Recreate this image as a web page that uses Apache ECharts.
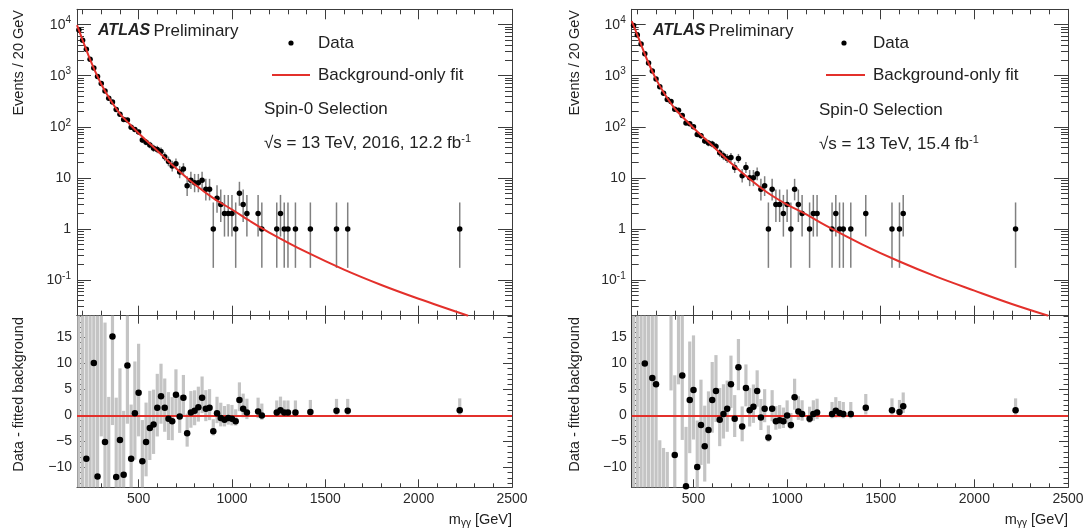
<!DOCTYPE html>
<html><head><meta charset="utf-8">
<script src="https://cdn.jsdelivr.net/npm/echarts@6/dist/echarts.min.js"></script>
<style>html,body{margin:0;padding:0;background:#fff}#c{width:1083px;height:531px}</style>
</head><body><div id="c"></div>
<script>
// ---------------- data ----------------
const xMajorTicks = [500, 1000, 1500, 2000, 2500];
const xMinorTicks = [200,300,400,600,700,800,900,1100,1200,1300,1400,1600,1700,1800,1900,2100,2200,2300,2400];
const residMajorTicks = [-10, -5, 0, 5, 10, 15];
const residMinorTicks = [-13,-12,-11,-9,-8,-7,-6,-4,-3,-2,-1,1,2,3,4,6,7,8,9,11,12,13,14,16,17,18,19];
const logTickLabels = {'-1': '10{sup|-1}', '0': '1', '1': '10', '2': '10{sup|2}', '3': '10{sup|3}', '4': '10{sup|4}'};

// Left: 2016, 12.2 fb-1
const massLeft = [180,200,220,240,260,280,300,320,340,360,380,400,420,440,460,480,500,520,540,560,580,600,620,640,660,680,700,720,740,760,780,800,820,840,860,880,900,920,940,960,980,1000,1020,1040,1060,1080,1140,1160,1240,1260,1280,1300,1340,1420,1560,1620,2220];
const countsLeft = [7855,4978,3319,2104,1425,970,702,505,364,307,217,176,139,136,98,89,79,55,50,44,38,36,33,26,21,17,19,13,15,7,9,8,8,9,6,6,1,4,3,2,2,2,1,5,3,2,2,1,1,2,1,1,1,1,1,1,1];
const residLeft = [25,-22,-8.3,-20,10.1,-11.7,22,-5.1,-16,15.2,-11.8,-4.7,-11.4,9.6,-8.3,0.45,4.4,-8.8,-5.1,-2.4,-1.7,1.5,3.7,1.5,-0.6,-1.1,4.0,-0.2,3.4,-3.4,0.6,0.9,1.6,3.4,1.3,1.5,-3.0,0.45,-0.45,-0.8,-0.45,-0.6,-1.1,3.0,1.3,0.6,0.8,0.0,0.6,1.0,0.6,0.6,0.6,0.7,0.9,0.9,1.0];
const fitMassLeft = [170,200,250,300,350,400,450,500,600,700,800,900,1000,1100,1200,1400,1600,1800,2000,2265];
const fitValueLeft = [9800,5000,1700,680,330,180,115,75,34,15.5,7.5,4.0,2.4,1.4,0.85,0.35,0.16,0.08,0.043,0.02];

// Right: 15.4 fb-1
const massRight = [180,200,220,240,260,280,300,320,340,360,380,400,420,440,460,480,500,520,540,560,580,600,620,640,660,680,700,720,740,760,780,800,820,840,860,880,900,920,940,960,980,1000,1020,1040,1060,1080,1120,1140,1160,1240,1260,1280,1300,1340,1420,1560,1600,1620,2220];
const countsRight = [9600,6275,4200,2691,1768,1245,866,612,452,342,312,220,210,166,119,115,100,71,67,53,48,46,41,31,27,24,25,16,24,11,16,10,10,12,6,7,1,6,3,3,2,3,1,6,3,2,1,2,2,1,2,1,1,1,2,1,1,2,1];
const residRight = [30,-25,22,10,-20,7.2,6.0,-30,-28,-26,22,-7.6,20,7.7,-13.6,3.0,4.9,-9.9,-1.8,-5.9,-2.8,3.0,4.7,-0.8,0.3,1.3,6.0,-0.6,9.3,-2.1,5.3,1.0,1.7,4.7,-0.4,1.3,-4.2,1.3,-1.1,-0.9,-1.1,0.0,-1.8,3.5,0.8,0.3,-0.6,0.3,0.6,0.3,0.9,0.5,0.3,0.3,1.5,1.0,0.7,1.8,1.0];
const fitMassRight = [170,200,250,300,350,400,450,500,600,700,800,900,1000,1100,1200,1400,1600,1800,2000,2200,2395];
const fitValueRight = [11800,6300,2150,860,415,228,145,95,43,19.5,9.5,5.0,3.0,1.95,1.2,0.5,0.23,0.115,0.062,0.034,0.02];

// Garwood 68% Poisson intervals for small counts
const garwood = [[0,1.841],[0.173,3.300],[0.708,4.638],[1.367,5.918],[2.086,7.163],[2.840,8.382],[3.620,9.584],[4.419,10.77],[5.232,11.95],[6.057,13.11],[6.891,14.27]];
function poisson(n){ if (n <= 10) return garwood[n]; const s = Math.sqrt(n + 0.25); return [n + 0.5 - s, n + 0.5 + s]; }

// ---------------- style ----------------
const FONT = 'Liberation Sans';
const AX = '#3c3c3c';
const RED = '#e3302b';
const TXT = '#222';
const XMIN = 170, XMAX = 2500, YLMIN = 0.02, YLMAX = 20000, YRMIN = -13.8, YRMAX = 19.2;

const grids = [
  {left: 77, top: 9.3, width: 435, height: 306.4},
  {left: 77, top: 315.7, width: 435, height: 171.6},
  {left: 631.7, top: 9.3, width: 436.3, height: 306.4},
  {left: 631.7, top: 315.7, width: 436.3, height: 171.6}
].map(g => Object.assign({outerBoundsMode: 'none', containLabel: false}, g));

const tickLabelStyle = {color: '#2a2a2a', fontSize: 14, fontFamily: FONT};

function xAxesFor(g, showLabels, majLen, minLen) {
  const base = {gridIndex: g, type: 'value', min: XMIN, max: XMAX, splitLine: {show: false}};
  const mk = (pos, major) => Object.assign({}, base, {
    position: pos,
    axisLine: {show: major, onZero: false, lineStyle: {color: AX, width: 1}},
    axisTick: {show: true, inside: true, length: major ? majLen : minLen, customValues: major ? xMajorTicks : xMinorTicks, lineStyle: {color: AX, width: 1}},
    axisLabel: Object.assign({show: major && pos === 'bottom' && showLabels, customValues: xMajorTicks, margin: 5,
      formatter: v => String(Math.round(v))}, tickLabelStyle)
  });
  return [mk('bottom', true), mk('bottom', false), mk('top', true), mk('top', false)];
}

function logYAxes(g) {
  const base = {gridIndex: g, type: 'log', logBase: 10, min: YLMIN, max: YLMAX, splitLine: {show: false}, minorSplitLine: {show: false}};
  const mk = (pos) => Object.assign({}, base, {
    position: pos,
    axisLine: {show: true, onZero: false, lineStyle: {color: AX, width: 1}},
    axisTick: {show: true, inside: true, length: 14, lineStyle: {color: AX, width: 1}},
    minorTick: {show: true, splitNumber: 9, length: 7, lineStyle: {color: AX, width: 1}},
    axisLabel: Object.assign({
      show: pos === 'left', margin: 6, showMinLabel: false, showMaxLabel: false,
      formatter: function (v) {
        const l = Math.log10(v); const r = Math.round(l);
        if (Math.abs(l - r) > 1e-6) return '';
        return logTickLabels[String(r)] || '';
      },
      rich: {sup: {fontSize: 10, lineHeight: 10, padding: [0, 0, 8, 0], fontFamily: FONT, color: '#2a2a2a'}}
    }, tickLabelStyle)
  });
  return [mk('left'), mk('right')];
}

function residYAxes(g) {
  const base = {gridIndex: g, type: 'value', min: YRMIN, max: YRMAX, splitLine: {show: false}};
  const mk = (pos, major) => Object.assign({}, base, {
    position: pos,
    axisLine: {show: major, onZero: false, lineStyle: {color: AX, width: 1}},
    axisTick: {show: true, inside: true, length: major ? 9 : 4.5, customValues: major ? residMajorTicks : residMinorTicks, lineStyle: {color: AX, width: 1}},
    axisLabel: Object.assign({
      show: major && pos === 'left', customValues: residMajorTicks, margin: 5,
      formatter: v => (v < 0 ? '\u2212' + Math.abs(v) : String(v))
    }, tickLabelStyle)
  });
  return [mk('left', true), mk('left', false), mk('right', true), mk('right', false)];
}

const xAxes = [].concat(xAxesFor(0, false, 10, 5), xAxesFor(1, true, 8, 4), xAxesFor(2, false, 10, 5), xAxesFor(3, true, 8, 4));
const yAxes = [].concat(logYAxes(0), residYAxes(1), logYAxes(2), residYAxes(3));
// indices: top-left y 0, bottom-left y 2, top-right y 6, bottom-right y 8

function errSeries(xi, yi, data, lo, hi, color, width) {
  return {
    type: 'custom', xAxisIndex: xi, yAxisIndex: yi, data: data, z: 2, silent: true,
    renderItem: function (params, api) {
      const x = api.value(0);
      const a = Math.min(Math.max(api.value(1), lo), hi);
      const b = Math.min(Math.max(api.value(2), lo), hi);
      const p1 = api.coord([x, a]), p2 = api.coord([x, b]);
      return {type: 'line', shape: {x1: p1[0], y1: p1[1], x2: p2[0], y2: p2[1]}, style: {stroke: color, lineWidth: width}};
    }
  };
}

function panelSeries(mass, counts, resid, fitM, fitV, gTop, gBot, yTop, yBot) {
  const topErr = mass.map((m, i) => { const iv = poisson(counts[i]); return [m, iv[0], iv[1]]; });
  const botErr = mass.map((m, i) => { const iv = poisson(counts[i]); return [m, resid[i] - (counts[i] - iv[0]), resid[i] + (iv[1] - counts[i])]; });
  const xt = gTop * 4, xb = gBot * 4;
  return [
    errSeries(xt, yTop, topErr, YLMIN, YLMAX, '#808080', 1.5),
    {type: 'scatter', xAxisIndex: xt, yAxisIndex: yTop, data: mass.map((m, i) => [m, counts[i]]), symbol: 'circle', symbolSize: 5.5, itemStyle: {color: '#000', opacity: 1}, z: 4, silent: true},
    {type: 'line', xAxisIndex: xt, yAxisIndex: yTop, data: fitM.map((m, i) => [m, fitV[i]]), smooth: 0.35, showSymbol: false, lineStyle: {color: RED, width: 2}, z: 5, silent: true},
    Object.assign(errSeries(xb, yBot, botErr, YRMIN, YRMAX, '#c4c4c4', 3.2), {
      markLine: {silent: true, symbol: ['none', 'none'], label: {show: false}, lineStyle: {color: RED, width: 2, type: 'solid'}, data: [{yAxis: 0}], animation: false}
    }),
    {type: 'scatter', xAxisIndex: xb, yAxisIndex: yBot, data: mass.map((m, i) => [m, resid[i]]), symbol: 'circle', symbolSize: 6.5, itemStyle: {color: '#000', opacity: 1}, z: 6, clip: true, silent: true}
  ];
}

const series = [].concat(
  panelSeries(massLeft, countsLeft, residLeft, fitMassLeft, fitValueLeft, 0, 1, 0, 2),
  panelSeries(massRight, countsRight, residRight, fitMassRight, fitValueRight, 2, 3, 6, 8)
);

// ---------------- text overlays ----------------
function txt(x, y, text, opts) {
  return Object.assign({type: 'text', x: x, y: y, silent: true, style: Object.assign({text: text, fill: TXT, fontFamily: FONT, fontSize: 17, align: 'left', verticalAlign: 'middle'}, opts || {})});
}
const supRich = {sup: {fontSize: 11, lineHeight: 11, padding: [0, 0, 9, 0], fontFamily: FONT, fill: TXT}};
function panelText(o) {
  return [
    {type: 'text', x: o.atlasX, y: 31, silent: true, style: {text: '{a|ATLAS} {p|Preliminary}', verticalAlign: 'middle', rich: {
      a: {fontFamily: FONT, fontWeight: 'bold', fontStyle: 'italic', fontSize: 16, fill: TXT},
      p: {fontFamily: FONT, fontSize: 17, fill: TXT}}}},
    {type: 'circle', silent: true, shape: {cx: o.dotX, cy: 43, r: 2.6}, style: {fill: '#000'}},
    txt(o.textX, 43, 'Data'),
    {type: 'line', silent: true, shape: {x1: o.lineX1, y1: 75, x2: o.lineX2, y2: 75}, style: {stroke: RED, lineWidth: 2}},
    txt(o.textX, 75, 'Background-only fit'),
    txt(o.selX, o.selY, 'Spin-0 Selection'),
    txt(o.selX, o.sqrtY, o.lumi, {rich: supRich}),
    txt(o.yTitleX, 10, 'Events / 20 GeV', {fontSize: 14.5, align: 'right'}),
    txt(o.yTitleX, 317, 'Data - fitted background', {fontSize: 14.5, align: 'right'}),
    txt(o.xTitleX, 520, 'm{sub|\u03b3\u03b3} [GeV]', {fontSize: 14.5, align: 'right', rich: {sub: {fontSize: 10, lineHeight: 10, padding: [7, 0, 0, 0], fontFamily: FONT, fill: TXT}}})
  ].map((e, i) => (i === 7 || i === 8) ? Object.assign(e, {rotation: Math.PI / 2}) : e);
}

const graphic = [].concat(
  panelText({atlasX: 98, dotX: 291, lineX1: 272, lineX2: 310, textX: 318, selX: 264, selY: 109, sqrtY: 143,
    lumi: '\u221as = 13 TeV, 2016, 12.2 fb{sup|-1}', yTitleX: 19, xTitleX: 512}),
  panelText({atlasX: 653, dotX: 844, lineX1: 826, lineX2: 865, textX: 873, selX: 819, selY: 110, sqrtY: 144,
    lumi: '\u221as = 13 TeV, 15.4 fb{sup|-1}', yTitleX: 575, xTitleX: 1068})
);

const chart = echarts.init(document.getElementById('c'), null, {renderer: 'canvas'});
chart.setOption({
  animation: false,
  backgroundColor: '#fff',
  grid: grids,
  xAxis: xAxes,
  yAxis: yAxes,
  series: series,
  graphic: graphic
});
</script>
</body></html>
